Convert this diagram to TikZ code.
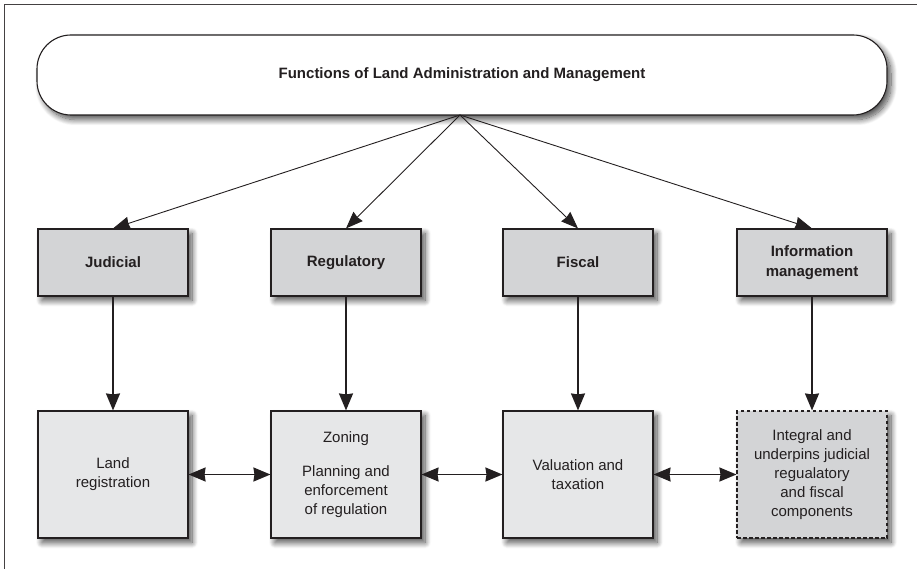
\documentclass[tikz,border=0pt]{standalone}
\usepackage{fontspec}
\setmainfont{Liberation Sans}
\usetikzlibrary{arrows.meta,shadows.blur}
\definecolor{ink}{HTML}{231F20}
\definecolor{boxdark}{HTML}{D3D4D6}
\definecolor{boxlight}{HTML}{E6E7E8}

\begin{document}
\begin{tikzpicture}[x=1pt,y=-1pt,
  soft/.style={blur shadow={shadow xshift=4pt,shadow yshift=-4.5pt,
      shadow blur radius=6pt,shadow blur steps=12,shadow opacity=70}},
  titlebox/.style={draw=ink,line width=1.1pt,fill=white,rounded corners=34pt,
      minimum width=850pt,minimum height=80pt,soft,text=ink,
      font=\bfseries\fontsize{15}{19}\selectfont},
  funcbox/.style={draw=ink,line width=1.1pt,fill=boxdark,minimum width=150pt,
      minimum height=67pt,soft,align=center,text=ink,
      font=\bfseries\fontsize{15}{20}\selectfont},
  taskbox/.style={draw=ink,line width=1.1pt,fill=boxlight,minimum width=150pt,
      minimum height=127pt,soft,align=center,text=ink,
      font=\fontsize{15}{19}\selectfont},
  infobox/.style={taskbox,fill=boxdark,dash pattern=on 3.5pt off 2.5pt},
  tip/.style={Stealth[length=17pt,width=14pt,inset=1pt]},
  fanarrow/.style={draw=ink,line width=0.9pt,-{Stealth[length=17pt,width=13pt,inset=1pt]}},
  downarrow/.style={draw=ink,line width=1.7pt,-{Stealth[length=17pt,width=14pt,inset=1pt]}},
  linkarrow/.style={draw=ink,line width=1.7pt,
      {Stealth[length=17pt,width=14pt,inset=1pt]}-{Stealth[length=17pt,width=14pt,inset=1pt]}}
]
\useasboundingbox (0,0) rectangle (917,569);

% page frame
\draw[ink!85,line width=0.8pt] (4,569) -- (4,4) -- (917,4);

% title
\node[titlebox] (title) at (462,75) {Functions of Land Administration and Management};
\coordinate (hub) at (460,115);

% functions
\node[funcbox] (jud) at (113,262.5) {Judicial};
\node[funcbox] (reg) at (346,262.5) {Regulatory};
\node[funcbox] (fis) at (578,262.5) {Fiscal};
\node[funcbox] (inf) at (812,262.5) {Information\\management};

% tasks
\node[taskbox] (land) at (113,474.5) {Land\\registration};
\node[taskbox] (zone) at (346,474.5) {Zoning\\[15pt]Planning and\\enforcement\\of regulation};
\node[taskbox] (val) at (578,474.5) {Valuation and\\taxation};
\node[infobox] (integ) at (812,474.5) {Integral and\\underpins judicial\\regualatory\\and fiscal\\components};

% connectors
\foreach \n in {jud,reg,fis,inf} \draw[fanarrow] (hub) -- (\n.north);
\draw[downarrow] (jud) -- (land);
\draw[downarrow] (reg) -- (zone);
\draw[downarrow] (fis) -- (val);
\draw[downarrow] (inf) -- (integ);
\draw[linkarrow] (land) -- (zone);
\draw[linkarrow] (zone) -- (val);
\draw[linkarrow] (val) -- (integ);
\end{tikzpicture}
\end{document}
